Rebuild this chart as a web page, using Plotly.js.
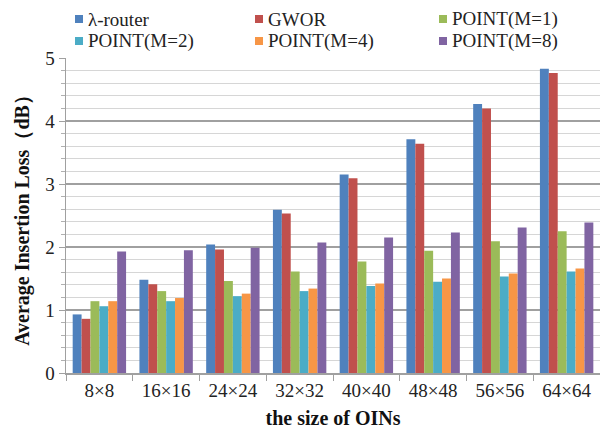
<!DOCTYPE html>
<html>
<head>
<meta charset="utf-8">
<script src="https://cdn.plot.ly/plotly-3.0.1.min.js"></script>
<style>html,body{margin:0;padding:0;background:#fff;}#chart{width:600px;height:430px;}</style>
</head>
<body>
<div id="chart"></div>
<script>
var categories = ["8×8","16×16","24×24","32×32","40×40","48×48","56×56","64×64"];
var seriesNames = ["λ-router","GWOR","POINT(M=1)","POINT(M=2)","POINT(M=4)","POINT(M=8)"];
var lambdaRouter = [0.93,1.48,2.04,2.59,3.15,3.71,4.27,4.83];
var gwor = [0.86,1.41,1.96,2.53,3.09,3.64,4.20,4.76];
var pointM1 = [1.14,1.30,1.46,1.61,1.77,1.94,2.09,2.25];
var pointM2 = [1.06,1.14,1.22,1.30,1.38,1.45,1.53,1.61];
var pointM4 = [1.14,1.19,1.26,1.34,1.42,1.50,1.58,1.66];
var pointM8 = [1.93,1.95,1.99,2.07,2.15,2.23,2.31,2.39];
var colors = ["#4F81BD","#C0504D","#9BBB59","#4BACC6","#F79646","#8064A2"];

var allSeries = [lambdaRouter,gwor,pointM1,pointM2,pointM4,pointM8];
var serif = 'Liberation Serif';
var data = allSeries.map(function(vals,i){
  return {type:'bar', x:categories, y:vals, name:seriesNames[i], showlegend:false,
          marker:{color:colors[i], line:{width:0}}};
});

// legend drawn as shapes + text (pixel layout converted to paper coords)
var L = 66, T = 58, W = 534, H = 315;
function px(x){ return (x - L) / W; }
function py(y){ return (T + H - y) / H; }
var colX = [75, 255, 439];
var rowY = [19, 41];
var shapes = [], annotations = [];
seriesNames.forEach(function(name, i){
  var cx = colX[i % 3], cy = rowY[Math.floor(i / 3)];
  shapes.push({type:'rect', xref:'paper', yref:'paper',
               x0:px(cx), x1:px(cx + 8), y0:py(cy + 4), y1:py(cy - 4),
               fillcolor:colors[i], line:{width:0}});
  annotations.push({xref:'paper', yref:'paper', x:px(cx + 11), y:py(cy),
                    xanchor:'left', yanchor:'middle', showarrow:false, text:name,
                    font:{family:serif, size:19, color:'#222'}});
});

var layout = {
  width:600, height:430,
  margin:{l:L, r:0, t:T, b:57},
  paper_bgcolor:'#fff', plot_bgcolor:'#fff',
  font:{family:serif, size:19, color:'#222'},
  barmode:'group', bargap:0.2, bargroupgap:0,
  showlegend:false,
  shapes:shapes, annotations:annotations,
  xaxis:{type:'category', tickson:'boundaries', ticks:'outside', ticklen:6,
         tickcolor:'#a0a0a0', showline:true, linecolor:'#a0a0a0', linewidth:1.5,
         showgrid:false, tickfont:{family:serif, size:19, color:'#222'},
         title:{text:'<b>the size of OINs</b>', font:{family:serif, size:20, color:'#111'}, standoff:10}},
  yaxis:{range:[0,5], dtick:1, ticks:'outside', ticklen:6, tickcolor:'#a0a0a0',
         showline:true, linecolor:'#a0a0a0', linewidth:1.5,
         gridcolor:'#a0a0a0', gridwidth:1.3, zeroline:false,
         minor:{dtick:0.2, showgrid:true, gridcolor:'#d6d6d6', gridwidth:1, ticks:'outside', ticklen:4, tickcolor:'#b0b0b0'},
         tickfont:{family:serif, size:19, color:'#222'},
         title:{text:'<b>Average Insertion Loss（dB）</b>', font:{family:serif, size:20, color:'#111'}, standoff:10}}
};
Plotly.newPlot('chart', data, layout, {displayModeBar:false, staticPlot:true});
</script>
</body>
</html>
